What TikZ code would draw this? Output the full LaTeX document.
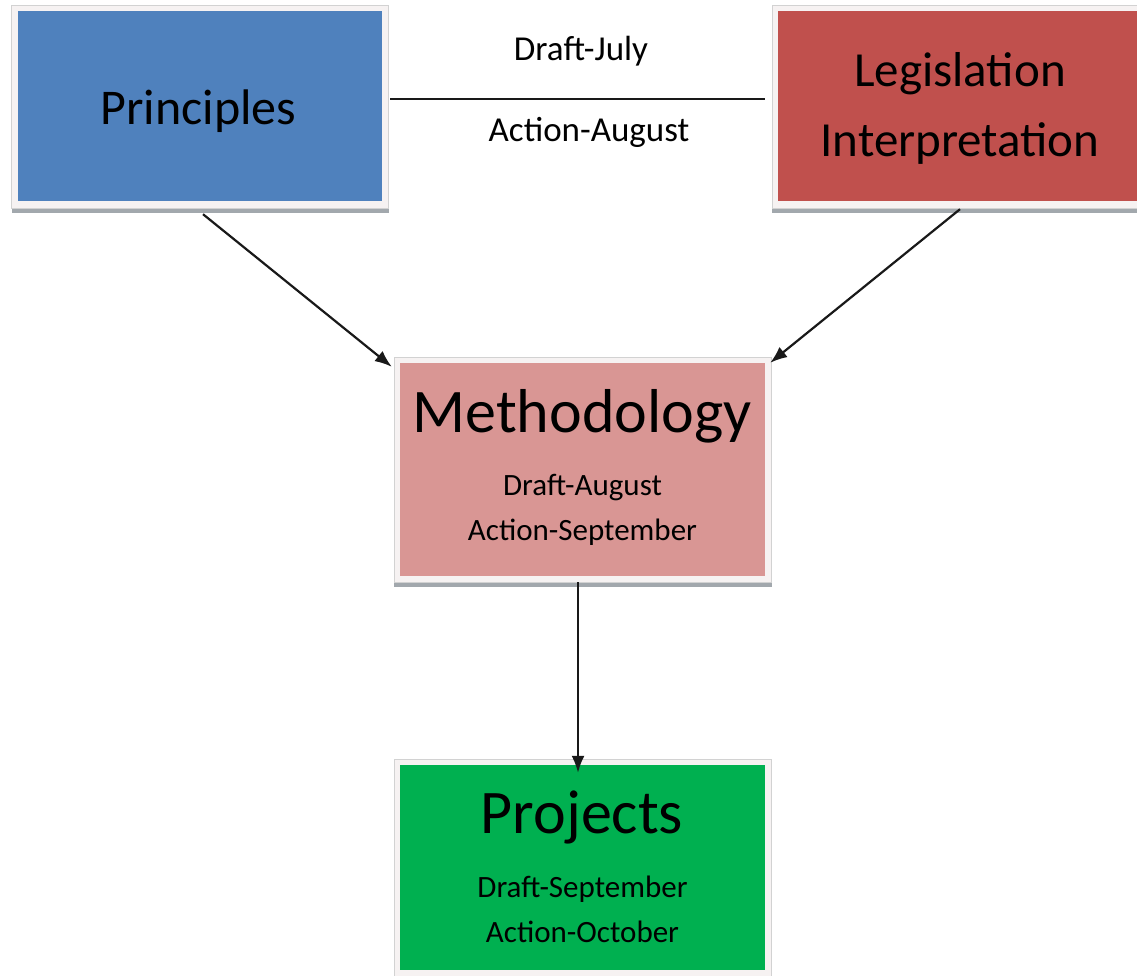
\documentclass[tikz,border=0pt]{standalone}
\usepackage{fontspec}
\setmainfont{Carlito}
\usetikzlibrary{arrows.meta,backgrounds}
\definecolor{pblue}{HTML}{4F81BD}
\definecolor{lred}{HTML}{C0504D}
\definecolor{mpink}{HTML}{D99694}
\definecolor{jgreen}{HTML}{00B050}
\definecolor{framec}{HTML}{F6F2F2}
\definecolor{frameedge}{HTML}{D2D2D2}
\definecolor{shadowc}{HTML}{A2A8AD}
\tikzset{
  box/.style={rectangle, inner sep=0pt, draw=none},
  txt/.style={inner sep=0pt, anchor=base, text=black},
  conn/.style={draw=black!90, line width=2.2pt},
  arr/.style={conn, -{Latex[length=17pt,width=13pt]}},
}
\begin{document}
\begin{tikzpicture}[x=1pt,y=-1pt]
\useasboundingbox (0,0) rectangle (1137,976);
% boxes
\node[box, fill=pblue, minimum width=364pt, minimum height=190pt] (P) at (199.5,106.5) {};
\node[box, fill=lred, minimum width=364pt, minimum height=190pt] (L) at (960,106.5) {};
\node[box, fill=mpink, minimum width=365pt, minimum height=213pt] (M) at (582.5,469.5) {};
\node[box, fill=jgreen, minimum width=365pt, minimum height=205pt] (J) at (582.5,867.5) {};
\begin{scope}[on background layer]
\foreach \n in {P,L,M,J} {
  \fill[shadowc] ([shift={(-5.5pt,1.5pt)}]\n.south west) rectangle ([shift={(7pt,-11pt)}]\n.south east);
  \filldraw[fill=framec, draw=frameedge, line width=0.6pt] ([shift={(-6pt,6pt)}]\n.north west) rectangle ([shift={(6.5pt,-6.5pt)}]\n.south east);
}
\end{scope}
% texts
\node[txt, font=\fontsize{50}{50}\selectfont] (tP) at (198.5,125) {Principles};
\node[txt, font=\fontsize{49}{49}\selectfont] (tL1) at (960,87) {Legislation};
\node[txt, font=\fontsize{49}{49}\selectfont] (tL2) at (960,157) {Interpretation};
\node[txt, font=\fontsize{62}{62}\selectfont] (tM) at (582,432) {Methodology};
\node[txt, font=\fontsize{31}{31}\selectfont] (tM1) at (582.5,495) {Draft-August};
\node[txt, font=\fontsize{31}{31}\selectfont] (tM2) at (582.5,540) {Action-September};
\node[txt, font=\fontsize{62}{62}\selectfont] (tJ) at (582,833) {Projects};
\node[txt, font=\fontsize{31}{31}\selectfont] (tJ1) at (582.5,897) {Draft-September};
\node[txt, font=\fontsize{31}{31}\selectfont] (tJ2) at (582.5,942) {Action-October};
\node[txt, font=\fontsize{35}{35}\selectfont] (dj) at (581,61) {Draft-July};
\node[txt, font=\fontsize{35}{35}\selectfont] (aa) at (589,142) {Action-August};
% connectors
\draw[conn] ([shift={(8.5pt,7.5pt)}]P.east) -- ([shift={(-13pt,7.5pt)}]L.west);
\draw[arr] ([shift={(3.5pt,-12.5pt)}]P.south) -- ([shift={(-8pt,-4pt)}]M.north west);
\draw[arr] ([shift={(0pt,-7.5pt)}]L.south) -- ([shift={(5pt,0pt)}]M.north east);
\draw[arr] ([shift={(-4.5pt,-6pt)}]M.south) -- ([shift={(-4.5pt,-8pt)}]J.north);
\end{tikzpicture}
\end{document}
